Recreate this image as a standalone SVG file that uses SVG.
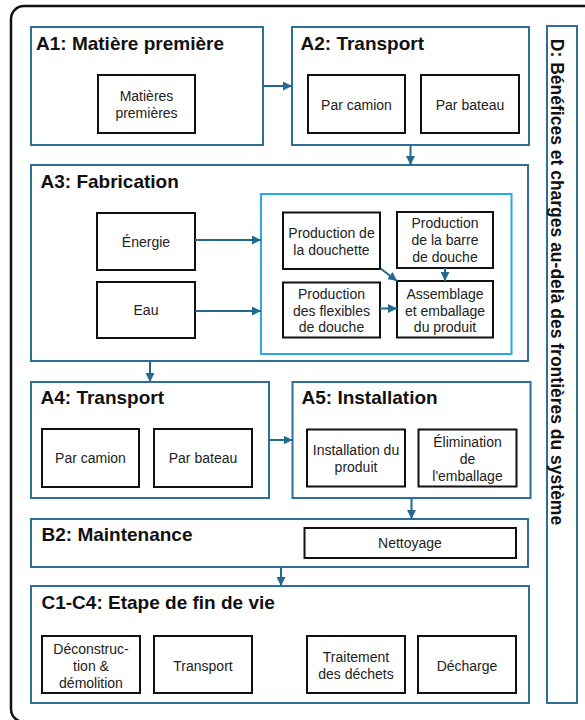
<svg xmlns="http://www.w3.org/2000/svg" width="585" height="720" viewBox="0 0 585 720">
<defs>
<style>
.stage{fill:#fff;stroke:#2d6f96;stroke-width:2}
.inner{fill:#fff;stroke:#29abe2;stroke-width:2}
.box{fill:#fff;stroke:#111;stroke-width:2}
.title{font-family:"Liberation Sans",Arial,sans-serif;font-weight:bold;font-size:19px;fill:#111}
.lbl{font-family:"Liberation Sans",Arial,sans-serif;font-size:14px;fill:#222;text-anchor:middle}
.dtitle{font-family:"Liberation Sans",Arial,sans-serif;font-weight:bold;font-size:17.5px;fill:#111;text-anchor:middle}
.con{fill:none;stroke:#23688f;stroke-width:2;marker-end:url(#ah)}
</style>
<marker id="ah" viewBox="0 0 10 10" refX="10" refY="5" markerWidth="4.5" markerHeight="4.5" markerUnits="strokeWidth" orient="auto">
<path d="M0,0 L10,5 L0,10 Z" fill="#23688f"/>
</marker>
</defs>
<rect width="585" height="720" fill="#fff"/>
<rect x="11" y="6" width="600" height="716" rx="13" fill="none" stroke="#111" stroke-width="2.5"/>

<g id="A1">
<rect class="stage" x="31" y="27" width="232" height="118"/>
<text class="title" x="36" y="50">A1: Matière première</text>
<rect class="box" x="98" y="75" width="97" height="58"/>
<text class="lbl" x="146.5" y="101">Matières</text>
<text class="lbl" x="146.5" y="118">premières</text>
</g>

<g id="A2">
<rect class="stage" x="292" y="27" width="237" height="118"/>
<text class="title" x="300.5" y="50">A2: Transport</text>
<rect class="box" x="308" y="75" width="97" height="58"/>
<text class="lbl" x="356.5" y="110">Par camion</text>
<rect class="box" x="421" y="75" width="98" height="58"/>
<text class="lbl" x="470" y="110">Par bateau</text>
</g>

<g id="D">
<rect class="stage" x="547" y="26" width="30" height="677"/>
<text class="dtitle" transform="translate(551,282) rotate(90)">D: Bénéfices et charges au-delà des frontières du système</text>
</g>

<g id="A3">
<rect class="stage" x="31" y="165" width="497" height="196"/>
<text class="title" x="40.5" y="188">A3: Fabrication</text>
<rect class="inner" x="261" y="194" width="250.5" height="160"/>
<rect class="box" x="97" y="213" width="98" height="57"/>
<text class="lbl" x="146" y="247">Énergie</text>
<rect class="box" x="97" y="282" width="98" height="56"/>
<text class="lbl" x="146" y="315">Eau</text>
</g>

<g id="A3-douchette">
<rect class="box" x="283" y="212.5" width="97" height="56.5"/>
<text class="lbl" x="331.5" y="238">Production de</text>
<text class="lbl" x="331.5" y="255">la douchette</text>
</g>
<g id="A3-barre">
<rect class="box" x="397" y="212" width="96" height="56"/>
<text class="lbl" x="445" y="228">Production</text>
<text class="lbl" x="445" y="245">de la barre</text>
<text class="lbl" x="445" y="262">de douche</text>
</g>
<g id="A3-flexibles">
<rect class="box" x="283" y="282.5" width="97" height="55"/>
<text class="lbl" x="331.5" y="299">Production</text>
<text class="lbl" x="331.5" y="315.5">des flexibles</text>
<text class="lbl" x="331.5" y="332">de douche</text>
</g>
<g id="A3-assemblage">
<rect class="box" x="397" y="281" width="96" height="56.5"/>
<text class="lbl" x="445" y="299">Assemblage</text>
<text class="lbl" x="445" y="315.5">et emballage</text>
<text class="lbl" x="445" y="332">du produit</text>
</g>

<g id="A4">
<rect class="stage" x="31" y="382" width="238" height="116"/>
<text class="title" x="40.5" y="404">A4: Transport</text>
<rect class="box" x="42" y="429" width="97" height="58"/>
<text class="lbl" x="90.5" y="463">Par camion</text>
<rect class="box" x="154" y="429" width="98" height="58"/>
<text class="lbl" x="203" y="463">Par bateau</text>
</g>

<g id="A5">
<rect class="stage" x="292.5" y="382" width="238" height="116"/>
<text class="title" x="301.5" y="403.5">A5: Installation</text>
<rect class="box" x="307" y="429.5" width="98" height="57"/>
<text class="lbl" x="356" y="455">Installation du</text>
<text class="lbl" x="356" y="472">produit</text>
<rect class="box" x="418.5" y="429.5" width="98" height="57"/>
<text class="lbl" x="467.5" y="447">Élimination</text>
<text class="lbl" x="467.5" y="464">de</text>
<text class="lbl" x="467.5" y="481">l'emballage</text>
</g>

<g id="B2">
<rect class="stage" x="31" y="519" width="497" height="48"/>
<text class="title" x="41.5" y="541">B2: Maintenance</text>
<rect class="box" x="304.5" y="528" width="211.5" height="30"/>
<text class="lbl" x="410" y="548">Nettoyage</text>
</g>

<g id="C1-C4">
<rect class="stage" x="31" y="586" width="498" height="117"/>
<text class="title" x="41.5" y="609">C1-C4: Etape de fin de vie</text>
<rect class="box" x="42" y="636" width="98" height="57"/>
<text class="lbl" x="91" y="654">Déconstruc-</text>
<text class="lbl" x="91" y="671">tion &amp;</text>
<text class="lbl" x="91" y="687.5">démolition</text>
<rect class="box" x="154" y="636" width="98" height="57"/>
<text class="lbl" x="203" y="671">Transport</text>
<rect class="box" x="307" y="636" width="98" height="57"/>
<text class="lbl" x="356" y="661.5">Traitement</text>
<text class="lbl" x="356" y="679">des déchets</text>
<rect class="box" x="418" y="636" width="98" height="57"/>
<text class="lbl" x="467" y="671">Décharge</text>
</g>

<g id="connectors">
<line class="con" x1="263" y1="86" x2="292" y2="86"/>
<line class="con" x1="410.5" y1="145" x2="410.5" y2="165"/>
<line class="con" x1="195" y1="240" x2="261" y2="240"/>
<line class="con" x1="195" y1="311" x2="261" y2="311"/>
<line class="con" x1="380.5" y1="268.5" x2="397" y2="281"/>
<line class="con" x1="445" y1="268" x2="445" y2="281"/>
<line class="con" x1="380" y1="308.5" x2="397" y2="308.5"/>
<line class="con" x1="150" y1="361" x2="150" y2="382"/>
<line class="con" x1="269" y1="440" x2="292.5" y2="440"/>
<line class="con" x1="411.5" y1="498" x2="411.5" y2="519"/>
<line class="con" x1="281" y1="567" x2="281" y2="586"/>
</g>
</svg>
